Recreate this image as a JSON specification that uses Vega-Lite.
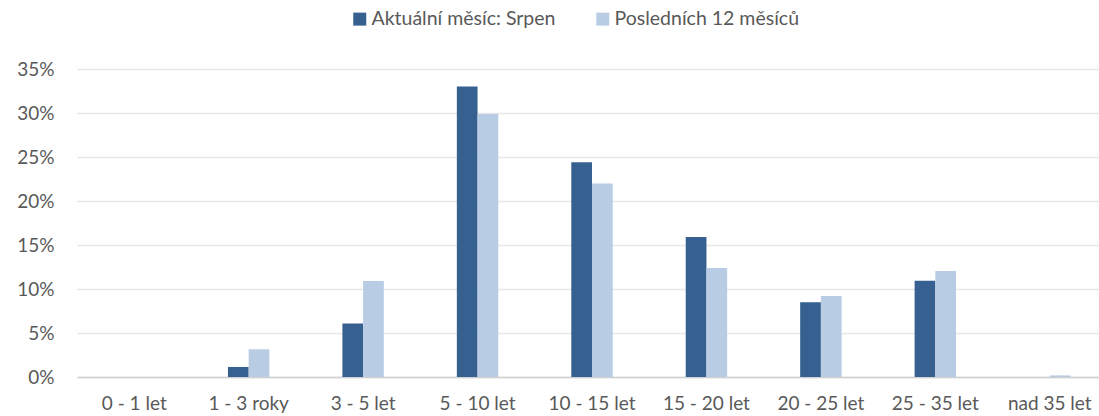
{
  "$schema": "https://vega.github.io/schema/vega-lite/v6.json",
  "width": 1030,
  "height": 308,
  "autosize": {"type": "none"},
  "padding": {"left": 77, "top": 69, "right": 0, "bottom": 39},
  "background": "white",
  "config": {
    "view": {"stroke": null},
    "font": "Lato",
    "axis": {"labelFont": "Lato", "labelColor": "#595959", "labelFontSize": 19},
    "legend": {"labelFont": "Lato", "labelColor": "#595959", "labelFontSize": 19.5}
  },
  "data": {
    "values": [
      {"kat": "0 - 1 let", "serie": "Aktuální měsíc: Srpen", "hodnota": 0},
      {"kat": "0 - 1 let", "serie": "Posledních 12 měsíců", "hodnota": 0},
      {"kat": "1 - 3 roky", "serie": "Aktuální měsíc: Srpen", "hodnota": 0.0114},
      {"kat": "1 - 3 roky", "serie": "Posledních 12 měsíců", "hodnota": 0.0315},
      {"kat": "3 - 5 let", "serie": "Aktuální měsíc: Srpen", "hodnota": 0.0607},
      {"kat": "3 - 5 let", "serie": "Posledních 12 měsíců", "hodnota": 0.109},
      {"kat": "5 - 10 let", "serie": "Aktuální měsíc: Srpen", "hodnota": 0.330},
      {"kat": "5 - 10 let", "serie": "Posledních 12 měsíců", "hodnota": 0.299},
      {"kat": "10 - 15 let", "serie": "Aktuální měsíc: Srpen", "hodnota": 0.244},
      {"kat": "10 - 15 let", "serie": "Posledních 12 měsíců", "hodnota": 0.220},
      {"kat": "15 - 20 let", "serie": "Aktuální měsíc: Srpen", "hodnota": 0.159},
      {"kat": "15 - 20 let", "serie": "Posledních 12 měsíců", "hodnota": 0.124},
      {"kat": "20 - 25 let", "serie": "Aktuální měsíc: Srpen", "hodnota": 0.085},
      {"kat": "20 - 25 let", "serie": "Posledních 12 měsíců", "hodnota": 0.092},
      {"kat": "25 - 35 let", "serie": "Aktuální měsíc: Srpen", "hodnota": 0.1095},
      {"kat": "25 - 35 let", "serie": "Posledních 12 měsíců", "hodnota": 0.1205},
      {"kat": "nad 35 let", "serie": "Aktuální měsíc: Srpen", "hodnota": 0},
      {"kat": "nad 35 let", "serie": "Posledních 12 měsíců", "hodnota": 0.0018}
    ]
  },
  "mark": {"type": "bar"},
  "encoding": {
    "x": {
      "field": "kat",
      "type": "nominal",
      "sort": null,
      "title": null,
      "scale": {"paddingInner": 0.638, "paddingOuter": 0.319},
      "axis": {
        "labelAngle": 0,
        "ticks": false,
        "domainColor": "#d0d0d0",
        "domainWidth": 1.5,
        "labelPadding": 17,
        "labelLimit": 0
      }
    },
    "xOffset": {"field": "serie", "type": "nominal", "sort": null},
    "y": {
      "field": "hodnota",
      "type": "quantitative",
      "title": null,
      "scale": {"domain": [0, 0.35], "nice": false},
      "axis": {
        "values": [0, 0.05, 0.1, 0.15, 0.2, 0.25, 0.3, 0.35],
        "format": ".0%",
        "ticks": false,
        "domain": false,
        "gridColor": "#e8e8e8",
        "gridWidth": 1.5,
        "labelPadding": 23
      }
    },
    "color": {
      "field": "serie",
      "type": "nominal",
      "sort": null,
      "title": null,
      "scale": {"range": ["#36608F", "#B8CCE4"]},
      "legend": {
        "orient": "none",
        "direction": "horizontal",
        "legendX": 273,
        "legendY": -60,
        "symbolType": "square",
        "symbolSize": 169,
        "symbolStrokeWidth": 0,
        "labelOffset": 2,
        "labelLimit": 0,
        "columnPadding": 37
      }
    }
  }
}
